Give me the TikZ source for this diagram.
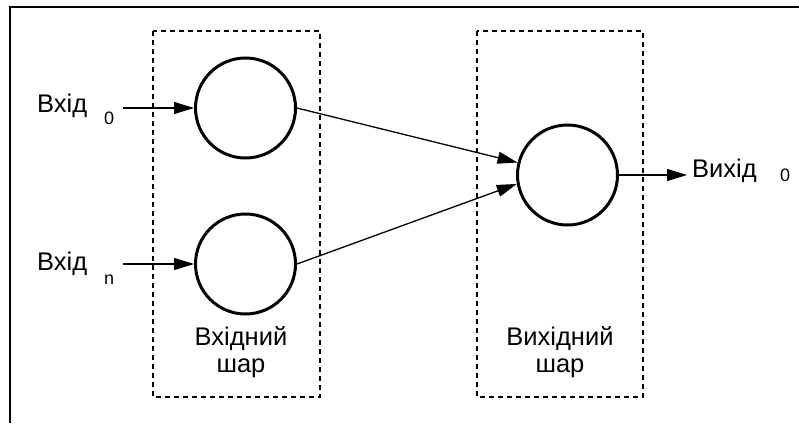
\documentclass[tikz,border=0pt]{standalone}
\usepackage{fontspec}
\setmainfont{Liberation Sans}
\usetikzlibrary{arrows.meta}
\begin{document}
\begin{tikzpicture}[x=1pt,y=-1pt,
  neuron/.style={draw,circle,line width=3pt,minimum size=100pt,inner sep=0pt},
  layerbox/.style={draw,dashed,line width=1.3pt,dash pattern=on 5pt off 4pt},
  link/.style={line width=1.3pt,-{Triangle[length=20pt,width=12pt]}},
  lbl/.style={font=\fontsize{25.5}{29}\selectfont,inner sep=0pt},
  sub/.style={font=\fontsize{18}{21}\selectfont,inner sep=0pt},
  layerlbl/.style={font=\fontsize{25.5}{27}\selectfont,inner sep=0pt,align=center,anchor=base}]
  \useasboundingbox (0,0) rectangle (799,423);
  % outer frame
  \draw[line width=2.2pt] (10,423) -- (10,7) -- (799,7);
  % layer boxes
  \draw[layerbox] (153,31) rectangle (320,397);
  \draw[layerbox] (477,31) rectangle (643,397);
  % neurons
  \node[neuron] (c0) at (245.5,108) {};
  \node[neuron] (cn) at (245.5,264) {};
  \node[neuron] (out) at (567.5,175) {};
  % inputs
  \coordinate (in0) at (123,108);
  \coordinate (inn) at (123,264);
  \coordinate (outend) at (687,175);
  \node[lbl,anchor=base west] (tin0) at (37,112) {Вхід};
  \node[sub,anchor=base west] (sin0) at (104,124) {0};
  \node[lbl,anchor=base west] (tinn) at (37,270) {Вхід};
  \node[sub,anchor=base west] (sinn) at (104,284) {n};
  \draw[link] (in0) -- (c0.west);
  \draw[link] (inn) -- (cn.west);
  % connections
  \draw[link] (c0.east) -- (out.166);
  \draw[link] (cn.east) -- (out.190);
  % output
  \draw[link] (out.east) -- (outend);
  \node[lbl,anchor=base west] (tout) at (692,177) {Вихід};
  \node[sub,anchor=base west] (sout) at (780,181) {0};
  % layer captions (base anchor sits on the last line)
  \node[layerlbl] (lin) at (241,372) {Вхідний\\шар};
  \node[layerlbl] (lout) at (560,372) {Вихідний\\шар};
\end{tikzpicture}
\end{document}
